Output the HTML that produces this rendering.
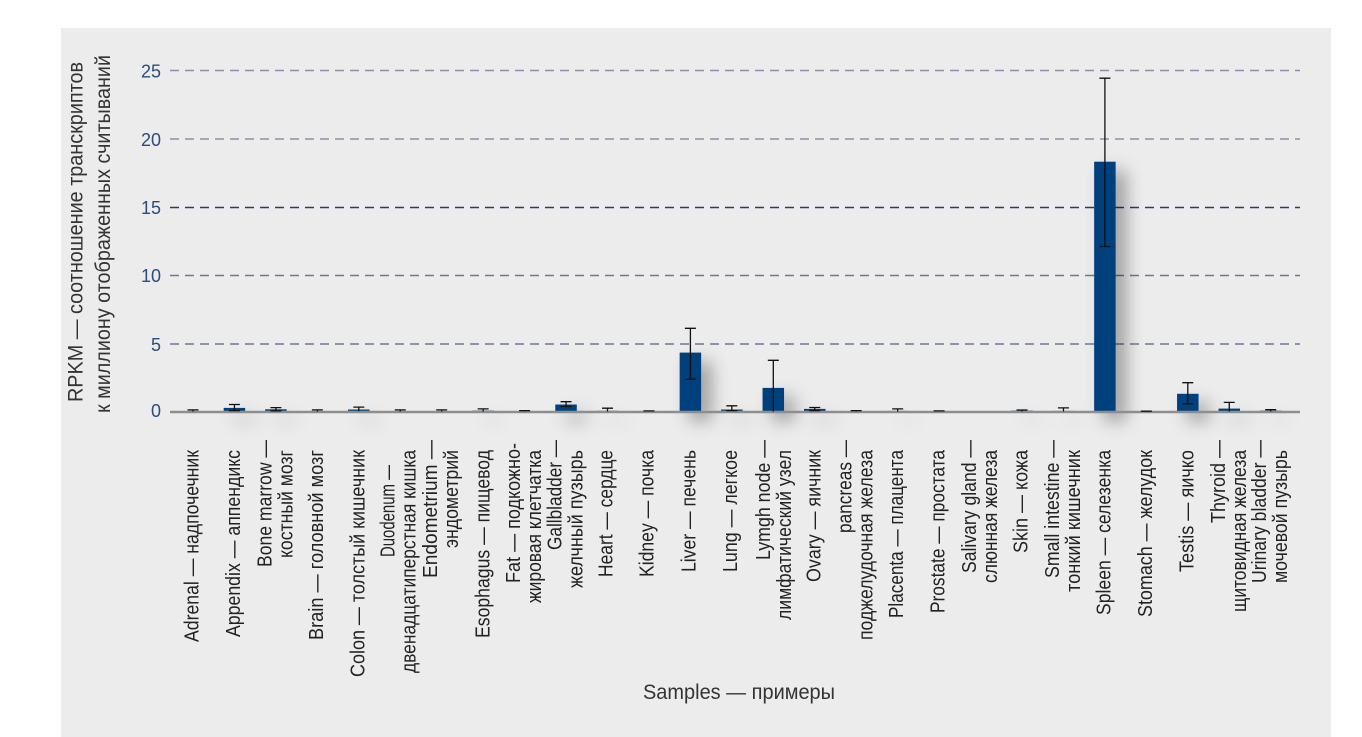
<!DOCTYPE html>
<html><head><meta charset="utf-8"><style>
html,body{margin:0;padding:0;background:#fff;}
svg{display:block;}
text{font-family:"Liberation Sans","Noto Sans CJK SC",sans-serif;}
</style></head><body>
<svg width="1362" height="737" viewBox="0 0 1362 737" xmlns="http://www.w3.org/2000/svg">
<defs>
<filter id="sh" x="-100%" y="-20%" width="300%" height="160%">
<feGaussianBlur in="SourceAlpha" stdDeviation="9"/>
<feOffset dx="10" dy="9" result="b"/>
<feComponentTransfer><feFuncA type="linear" slope="0.35"/></feComponentTransfer>
<feMerge><feMergeNode/><feMergeNode in="SourceGraphic"/></feMerge>
</filter>
</defs>
<rect x="0" y="0" width="1362" height="737" fill="#fff"/>
<rect x="61" y="28" width="1270" height="709" fill="#ececec"/>

<!-- gridlines -->
<g stroke-width="1.5" stroke-dasharray="9 6" fill="none">
<line x1="170" y1="70.5" x2="1300" y2="70.5" stroke="#8a90ab"/>
<line x1="170" y1="139" x2="1300" y2="139" stroke="#8a90ab"/>
<line x1="170" y1="207.5" x2="1300" y2="207.5" stroke="#1f3f6e"/>
<line x1="170" y1="275.5" x2="1300" y2="275.5" stroke="#6b7699"/>
<line x1="170" y1="344" x2="1300" y2="344" stroke="#6b7699"/>
</g>

<!-- tick labels -->
<g font-size="18" fill="#2b4c7e" text-anchor="end">
<text x="161" y="77.5">25</text>
<text x="161" y="146">20</text>
<text x="161" y="214">15</text>
<text x="161" y="282">10</text>
<text x="161" y="351">5</text>
<text x="161" y="417">0</text>
</g>

<!-- y axis title -->
<g font-size="21" fill="#333">
<text transform="translate(82.5,402) rotate(-90)" textLength="340" lengthAdjust="spacingAndGlyphs">RPKM — соотношение транскриптов</text>
<text transform="translate(110,413) rotate(-90)" textLength="358" lengthAdjust="spacingAndGlyphs">к миллиону отображенных считываний</text>
</g>

<!-- bars -->
<g fill="#063f7c" filter="url(#sh)">
<rect x="223.7" y="407.9" width="21.5" height="4.1"/>
<rect x="265.15" y="409.3" width="21.5" height="2.7"/>
<rect x="348.05" y="409.5" width="21.5" height="2.5"/>
<rect x="472.4" y="410.6" width="21.5" height="1.4"/>
<rect x="555.3" y="404.5" width="21.5" height="7.5"/>
<rect x="596.75" y="410.6" width="21.5" height="1.4" fill="#7d8aa3"/>
<rect x="679.65" y="352.6" width="21.5" height="59.4"/>
<rect x="721.1" y="409.5" width="21.5" height="2.5"/>
<rect x="762.55" y="387.9" width="21.5" height="24.1"/>
<rect x="804" y="408.9" width="21.5" height="3.1"/>
<rect x="886.9" y="410.9" width="21.5" height="1.1"/>
<rect x="1011.25" y="410.6" width="21.5" height="1.4"/>
<rect x="1052.7" y="410.9" width="21.5" height="1.1"/>
<rect x="1094.15" y="161.7" width="21.5" height="250.3"/>
<rect x="1177.05" y="393.8" width="21.5" height="18.2"/>
<rect x="1218.5" y="408.6" width="21.5" height="3.4"/>
<rect x="1259.95" y="410.6" width="21.5" height="1.4"/>
</g>

<!-- axis line -->
<line x1="170" y1="412" x2="1300" y2="412" stroke="#8e8e8e" stroke-width="2.5"/>

<!-- error bars -->
<g stroke="#111" stroke-width="1.3" fill="none">
<path d="M193 409.9V411.5M187.5 409.9H198.5"/>
<path d="M234.45 404.5V410.6M228.95 404.5H239.95M228.95 410.6H239.95"/>
<path d="M275.9 407.6V410.9M270.4 407.6H281.4M270.4 410.9H281.4"/>
<path d="M317.35 409.9V411.5M311.85 409.9H322.85"/>
<path d="M358.8 407.1V411.3M353.3 407.1H364.3"/>
<path d="M400.25 409.9V411.5M394.75 409.9H405.75"/>
<path d="M441.7 409.9V411.5M436.2 409.9H447.2"/>
<path d="M483.15 408.9V411.5M477.65 408.9H488.65"/>
<path d="M524.6 410.6V411.5M519.1 410.6H530.1"/>
<path d="M566.05 401.7V406.5M560.55 401.7H571.55M560.55 406.5H571.55"/>
<path d="M607.5 408.2V411.5M602 408.2H613"/>
<path d="M648.95 410.9V411.5M643.45 410.9H654.45"/>
<path d="M690.4 328.3V379.2M684.9 328.3H695.9M684.9 379.2H695.9"/>
<path d="M731.85 405.8V410.6M726.35 405.8H737.35M726.35 410.6H737.35"/>
<path d="M773.3 360.3V411.5M767.8 360.3H778.8"/>
<path d="M814.75 407.5V410.6M809.25 407.5H820.25M809.25 410.6H820.25"/>
<path d="M856.2 410.6V411.5M850.7 410.6H861.7"/>
<path d="M897.65 408.9V411.5M892.15 408.9H903.15"/>
<path d="M939.1 410.9V411.5M933.6 410.9H944.6"/>
<path d="M1022 410V411.5M1016.5 410H1027.5"/>
<path d="M1063.45 407.9V411.5M1057.95 407.9H1068.95"/>
<path d="M1104.9 78.2V246.5M1099.4 78.2H1110.4M1099.4 246.5H1110.4"/>
<path d="M1146.35 411.2V411.5M1140.85 411.2H1151.85"/>
<path d="M1187.8 382.7V403.8M1182.3 382.7H1193.3M1182.3 403.8H1193.3"/>
<path d="M1229.25 402.4V411.5M1223.75 402.4H1234.75"/>
<path d="M1270.7 409.7V411.5M1265.2 409.7H1276.2"/>
</g>

<!-- category labels -->
<g font-size="20" fill="#222">
<text transform="translate(198.5,642) rotate(-90)" textLength="192" lengthAdjust="spacingAndGlyphs">Adrenal — надпочечник</text>
<text transform="translate(239.95,637) rotate(-90)" textLength="187" lengthAdjust="spacingAndGlyphs">Appendix — аппендикс</text>
<text transform="translate(271.4,567) rotate(-90)" textLength="127" lengthAdjust="spacingAndGlyphs">Bone marrow —</text>
<text transform="translate(292.4,558) rotate(-90)" textLength="108" lengthAdjust="spacingAndGlyphs">костный мозг</text>
<text transform="translate(322.85,640) rotate(-90)" textLength="190" lengthAdjust="spacingAndGlyphs">Brain — головной мозг</text>
<text transform="translate(364.3,677) rotate(-90)" textLength="227" lengthAdjust="spacingAndGlyphs">Colon — толстый кишечник</text>
<text transform="translate(394.5,557) rotate(-90)" textLength="92" lengthAdjust="spacingAndGlyphs">Duodenum —</text>
<text transform="translate(415.5,673) rotate(-90)" textLength="223" lengthAdjust="spacingAndGlyphs">двенадцатиперстная кишка</text>
<text transform="translate(437.2,578) rotate(-90)" textLength="138" lengthAdjust="spacingAndGlyphs">Endometrium —</text>
<text transform="translate(458.2,548) rotate(-90)" textLength="98" lengthAdjust="spacingAndGlyphs">эндометрий</text>
<text transform="translate(489.65,638) rotate(-90)" textLength="188" lengthAdjust="spacingAndGlyphs">Esophagus — пищевод</text>
<text transform="translate(520.1,583) rotate(-90)" textLength="140" lengthAdjust="spacingAndGlyphs">Fat — подкожно-</text>
<text transform="translate(541.1,603) rotate(-90)" textLength="153" lengthAdjust="spacingAndGlyphs">жировая клетчатка</text>
<text transform="translate(561.55,550) rotate(-90)" textLength="110" lengthAdjust="spacingAndGlyphs">Gallbladder —</text>
<text transform="translate(582.55,588) rotate(-90)" textLength="138" lengthAdjust="spacingAndGlyphs">желчный пузырь</text>
<text transform="translate(612.5,577) rotate(-90)" textLength="127" lengthAdjust="spacingAndGlyphs">Heart — сердце</text>
<text transform="translate(653.45,577) rotate(-90)" textLength="127" lengthAdjust="spacingAndGlyphs">Kidney — почка</text>
<text transform="translate(695.4,572) rotate(-90)" textLength="122" lengthAdjust="spacingAndGlyphs">Liver — печень</text>
<text transform="translate(737,572) rotate(-90)" textLength="122" lengthAdjust="spacingAndGlyphs">Lung — легкое</text>
<text transform="translate(769.8,560) rotate(-90)" textLength="120" lengthAdjust="spacingAndGlyphs">Lymgh node —</text>
<text transform="translate(790.8,620) rotate(-90)" textLength="170" lengthAdjust="spacingAndGlyphs">лимфатический узел</text>
<text transform="translate(820.25,582) rotate(-90)" textLength="132" lengthAdjust="spacingAndGlyphs">Ovary — яичник</text>
<text transform="translate(851.7,533) rotate(-90)" textLength="93" lengthAdjust="spacingAndGlyphs">pancreas —</text>
<text transform="translate(872.7,640) rotate(-90)" textLength="190" lengthAdjust="spacingAndGlyphs">поджелудочная железа</text>
<text transform="translate(903.15,618) rotate(-90)" textLength="168" lengthAdjust="spacingAndGlyphs">Placenta — плацента</text>
<text transform="translate(944.6,613) rotate(-90)" textLength="163" lengthAdjust="spacingAndGlyphs">Prostate — простата</text>
<text transform="translate(976.05,573) rotate(-90)" textLength="133" lengthAdjust="spacingAndGlyphs">Salivary gland —</text>
<text transform="translate(997.05,583) rotate(-90)" textLength="133" lengthAdjust="spacingAndGlyphs">слюнная железа</text>
<text transform="translate(1027.5,553) rotate(-90)" textLength="103" lengthAdjust="spacingAndGlyphs">Skin — кожа</text>
<text transform="translate(1058.95,578) rotate(-90)" textLength="138" lengthAdjust="spacingAndGlyphs">Small intestine —</text>
<text transform="translate(1079.95,592) rotate(-90)" textLength="142" lengthAdjust="spacingAndGlyphs">тонкий кишечник</text>
<text transform="translate(1110.4,615) rotate(-90)" textLength="165" lengthAdjust="spacingAndGlyphs">Spleen — селезенка</text>
<text transform="translate(1151.85,617) rotate(-90)" textLength="167" lengthAdjust="spacingAndGlyphs">Stomach — желудок</text>
<text transform="translate(1193.3,572) rotate(-90)" textLength="122" lengthAdjust="spacingAndGlyphs">Testis — яичко</text>
<text transform="translate(1224.75,523) rotate(-90)" textLength="83" lengthAdjust="spacingAndGlyphs">Thyroid —</text>
<text transform="translate(1245.75,612) rotate(-90)" textLength="162" lengthAdjust="spacingAndGlyphs">щитовидная железа</text>
<text transform="translate(1266.2,583) rotate(-90)" textLength="143" lengthAdjust="spacingAndGlyphs">Urinary bladder —</text>
<text transform="translate(1287.2,583) rotate(-90)" textLength="133" lengthAdjust="spacingAndGlyphs">мочевой пузырь</text>
</g>

<!-- x axis title -->
<text x="643" y="699" font-size="21" fill="#333" textLength="192" lengthAdjust="spacingAndGlyphs">Samples — примеры</text>
</svg>
</body></html>
